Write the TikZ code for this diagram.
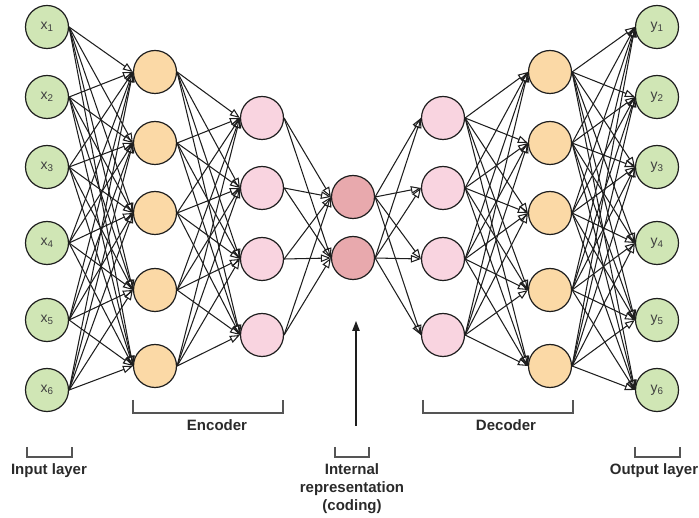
\documentclass[tikz,border=0pt]{standalone}
\usepackage{fontspec}
\setmainfont{Liberation Sans}
\usetikzlibrary{arrows.meta}
\definecolor{ingreen}{HTML}{D0E6B5}
\definecolor{hidorange}{HTML}{FBD9A6}
\definecolor{hidpink}{HTML}{F9D4E0}
\definecolor{codered}{HTML}{E8A9AD}
\definecolor{edgecol}{HTML}{1E1E1E}
\definecolor{brkcol}{HTML}{555555}
\definecolor{txtcol}{HTML}{2A2A2A}
\begin{document}
\begin{tikzpicture}[x=1pt,y=-1pt,
  neuron/.style={circle, draw=edgecol, line width=1.2pt, minimum size=43pt, inner sep=0pt,
    font=\fontsize{14}{16}\selectfont, text=black!75},
  link/.style={draw=edgecol, line width=1.05pt, -{Triangle[open,length=10pt,width=7.5pt]}},
  brk/.style={draw=brkcol, line width=1.3pt},
  lbl/.style={font=\bfseries\fontsize{15}{18}\selectfont, text=txtcol, align=center, inner sep=0pt}]
\useasboundingbox (0,0) rectangle (699,518);
% layers
\foreach \i/\y in {1/27,2/97,3/167,4/243,5/320,6/390}
  \node[neuron, fill=ingreen] (x\i) at (47,\y) {x\textsubscript{\i}};
\foreach \i/\y in {1/27,2/97,3/167,4/243,5/320,6/390}
  \node[neuron, fill=ingreen] (y\i) at (657,\y) {y\textsubscript{\i}};
\foreach \i/\y in {1/72,2/143,3/213,4/290,5/366}
  \node[neuron, fill=hidorange] (e\i) at (155,\y) {};
\foreach \i/\y in {1/72,2/143,3/213,4/290,5/366}
  \node[neuron, fill=hidorange] (d\i) at (550,\y) {};
\foreach \i/\y in {1/118,2/188,3/259,4/335}
  \node[neuron, fill=hidpink] (f\i) at (262,\y) {};
\foreach \i/\y in {1/118,2/188,3/259,4/335}
  \node[neuron, fill=hidpink] (g\i) at (443,\y) {};
\foreach \i/\y in {1/197,2/258}
  \node[neuron, fill=codered] (c\i) at (353,\y) {};
% connections
\foreach \i in {1,...,6} \foreach \j in {1,...,5} \draw[link] (x\i.east) -- (e\j.west);
\foreach \i in {1,...,5} \foreach \j in {1,...,4} \draw[link] (e\i.east) -- (f\j.west);
\foreach \i in {1,...,4} \foreach \j in {1,2} \draw[link] (f\i.east) -- (c\j.west);
\foreach \i in {1,2} \foreach \j in {1,...,4} \draw[link] (c\i.east) -- (g\j.west);
\foreach \i in {1,...,4} \foreach \j in {1,...,5} \draw[link] (g\i.east) -- (d\j.west);
\foreach \i in {1,...,5} \foreach \j in {1,...,6} \draw[link] (d\i.east) -- (y\j.west);
% brackets
\draw[brk] (133,400) -- (133,413) -- (283,413) -- (283,400);
\draw[brk] (423,400) -- (423,413) -- (573,413) -- (573,400);
\draw[brk] (27,447) -- (27,457) -- (72,457) -- (72,447);
\draw[brk] (635,447) -- (635,457) -- (680,457) -- (680,447);
\draw[brk] (335,447) -- (335,457) -- (369,457) -- (369,447);
% labels
\node[lbl] (enc) at (217,425) {Encoder};
\node[lbl] (dec) at (506,425) {Decoder};
\node[lbl] (inl) at (49,471) {Input layer};
\node[lbl] (outl) at (654,471) {Output layer};
\node[lbl] (code) at (352,489) {Internal\\representation\\(coding)};
% arrow to coding
\coordinate (arrbot) at (356,426);
\coordinate (arrtop) at (356,321);
\draw[draw=edgecol, line width=1.1pt, -{Triangle[length=10pt,width=7.5pt]}] (arrbot) -- (arrtop);
\end{tikzpicture}
\end{document}
